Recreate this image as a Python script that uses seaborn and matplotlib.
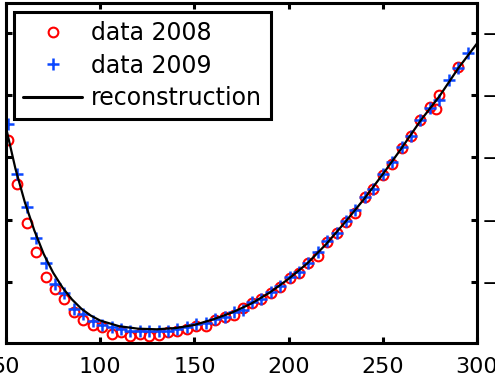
import numpy as np
import pandas as pd
import seaborn as sns
import matplotlib
matplotlib.use("Agg")
import matplotlib.pyplot as plt
from matplotlib.lines import Line2D

# data
x_2009 = [51, 56, 61, 66, 71, 76, 81, 86, 91, 96, 101, 106, 111, 116, 121, 126,
          131, 136, 141, 146, 151, 156, 161, 166, 171, 176, 180.5, 185.5, 190.5,
          195.5, 200.5, 205.5, 210.5, 215.5, 220.5, 225.5, 230.5, 235.5, 240.5,
          245, 250, 255, 260, 265, 270, 275, 280, 285, 290, 295]
y_2009 = [3.54, 2.73, 2.21, 1.70, 1.30, 0.97, 0.82, 0.56, 0.48, 0.38, 0.31, 0.27,
          0.24, 0.22, 0.21, 0.21, 0.22, 0.22, 0.25, 0.28, 0.33, 0.34, 0.40, 0.44,
          0.52, 0.55, 0.68, 0.73, 0.84, 0.93, 1.08, 1.16, 1.31, 1.48, 1.65, 1.79,
          1.98, 2.15, 2.37, 2.50, 2.74, 2.92, 3.17, 3.35, 3.60, 3.79, 3.92, 4.24,
          4.44, 4.68]

x_2008 = [51, 56, 61, 66, 71, 76, 81, 86, 91, 96, 101, 106, 111, 116, 121, 126,
          131, 136, 141, 146, 151, 156, 161, 166, 171, 176, 180.5, 185.5, 190.5,
          195.5, 200.5, 205.5, 210.5, 215.5, 220.5, 225.5, 230.5, 235.5, 240.5,
          245, 250, 255, 260, 265, 270, 275, 278, 280, 290]
y_2008 = [3.28, 2.57, 1.94, 1.48, 1.08, 0.88, 0.73, 0.51, 0.39, 0.31, 0.28, 0.17,
          0.20, 0.14, 0.17, 0.14, 0.15, 0.19, 0.22, 0.25, 0.30, 0.30, 0.39, 0.44,
          0.47, 0.58, 0.66, 0.72, 0.82, 0.92, 1.06, 1.14, 1.30, 1.41, 1.64, 1.78,
          1.97, 2.11, 2.37, 2.50, 2.72, 2.90, 3.15, 3.35, 3.60, 3.81, 3.77, 4.01,
          4.46]

x_rec = [50, 55, 60, 65, 70, 75, 80, 85, 90, 95, 100, 110, 120, 130, 140, 150,
         160, 170, 180, 190, 200, 210, 220, 230, 240, 250, 260, 270, 280, 290, 300]
y_rec = [3.48, 2.82, 2.28, 1.83, 1.45, 1.15, 0.91, 0.72, 0.57, 0.46, 0.38, 0.29,
         0.25, 0.24, 0.26, 0.31, 0.40, 0.51, 0.65, 0.83, 1.05, 1.30, 1.61, 1.96,
         2.33, 2.73, 3.15, 3.59, 3.98, 4.43, 4.83]

x_ticks = [50, 100, 150, 200, 250, 300]
y_ticks = [1, 2, 3, 4, 5]
y_tick_labels = ["\u22125", "\u22124", "\u22123", "\u22122", "\u22121"]
labels = ["data 2008", "data 2009", "reconstruction"]

red = "#ff0000"
blue = "#0a47ff"

sns.set_style("white")
plt.rcParams["font.family"] = ["DejaVu Sans"]
plt.rcParams["text.color"] = "black"

fig = plt.figure(figsize=(4.95, 3.89), dpi=100)
ax = fig.add_axes([6 / 495, 46 / 389, 471 / 495, 340 / 389])

d08 = pd.DataFrame({"x": x_2008, "y": y_2008})
d09 = pd.DataFrame({"x": x_2009, "y": y_2009})
drec = pd.DataFrame({"x": x_rec, "y": y_rec})

sns.lineplot(data=d08, x="x", y="y", ax=ax, linestyle="none", marker="o",
             markersize=7, markerfacecolor="none", markeredgecolor=red,
             markeredgewidth=1.5, color=red)
sns.lineplot(data=d09, x="x", y="y", ax=ax, linestyle="none", marker="+",
             markersize=8.5, markeredgewidth=1.8, markeredgecolor=blue,
             color=blue)
sns.lineplot(data=drec, x="x", y="y", ax=ax, color="black", linewidth=1.6)

ax.set_xlim(50, 300)
ax.set_ylim(0.02, 5.48)
ax.set_xticks(x_ticks)
ax.set_yticks(y_ticks)
ax.set_yticklabels(y_tick_labels)
ax.set_xlabel("")
ax.set_ylabel("")

for s in ax.spines.values():
    s.set_visible(True)
    s.set_color("black")
    s.set_linewidth(2.2)

ax.tick_params(axis="both", direction="in", length=4, width=2.2, color="black",
               labelsize=16, labelcolor="black")
ax.tick_params(axis="x", top=True, bottom=True, pad=10)
ax.tick_params(axis="y", left=True, right=True, labelleft=False,
               labelright=True, pad=3)

handles = [
    Line2D([], [], linestyle="none", marker="o", markersize=7,
           markerfacecolor="none", markeredgecolor=red, markeredgewidth=1.5),
    Line2D([], [], linestyle="none", marker="+", markersize=8.5,
           markeredgewidth=1.8, color=blue),
    Line2D([], [], color="black", linewidth=2.2),
]
leg = ax.legend(handles, labels, loc="upper left",
                bbox_to_anchor=(8 / 471, 1 - 9 / 340), borderaxespad=0,
                fontsize=17, frameon=True, fancybox=False, framealpha=1,
                borderpad=0.4, handlelength=2.5, handletextpad=0.35,
                labelspacing=0.35)
leg.get_frame().set_edgecolor("black")
leg.get_frame().set_linewidth(2.2)
for t in leg.get_texts():
    t.set_color("black")

fig.savefig("out.png", dpi=100)
